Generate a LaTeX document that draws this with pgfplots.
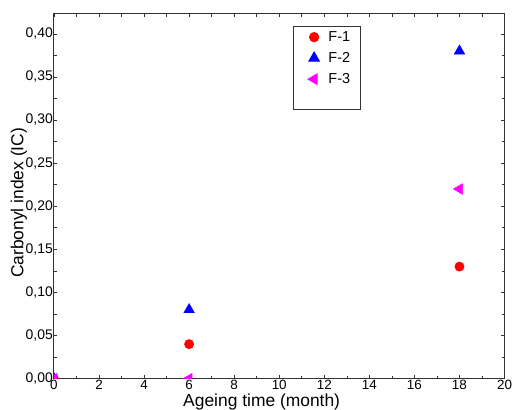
\documentclass[border=0pt]{standalone}
\usepackage{fontspec}
\setmainfont{Liberation Sans}
\usepackage{pgfplots}
\pgfplotsset{compat=1.18}
\definecolor{fmag}{RGB}{255,0,255}
\definecolor{fred}{RGB}{255,0,0}
\definecolor{fblue}{RGB}{0,0,255}

\begin{document}
\begin{tikzpicture}
\begin{axis}[
  scale only axis,
  width=451bp, height=365bp,
  xmin=0, xmax=20, ymin=0, ymax=0.423,
  xtick={0,2,...,20}, minor x tick num=1,
  ytick={0,0.05,...,0.40}, minor y tick num=1,
  tick align=inside,
  major tick length=3.5bp, minor tick length=3bp,
  every tick/.style={black!80, line width=0.6pt},
  axis line style={line width=1pt, black!80},
  /pgf/number format/.cd, use comma, fixed, fixed zerofill, precision=2, assume math mode=true,
  /pgfplots/.cd,
  xticklabel style={/pgf/number format/precision=0, /pgf/number format/fixed zerofill=false, font=\fontsize{13.5}{14}\selectfont, inner sep=0pt, yshift=-1pt},
  yticklabel style={font=\fontsize{14}{15}\selectfont, inner sep=1pt},
  xlabel={Ageing time (month)},
  ylabel={Carbonyl index (IC)},
  label style={font=\fontsize{17.5}{19}\selectfont},
  xlabel style={at={(axis description cs:0.461,-0.0755)}, anchor=base, inner sep=0pt},
  ylabel style={at={(axis description cs:-0.0776,0.482)}, anchor=center},
  clip marker paths=true,
  legend style={at={(axis cs:10.6,0.409)}, anchor=north west, draw=black!80, line width=0.8pt,
    font=\fontsize{14.5}{16}\selectfont, row sep=5.5bp, inner xsep=8bp, inner ysep=3bp,
    /tikz/every odd column/.append style={column sep=7bp}},
  legend cell align=left,
  legend image code/.code={\draw[mark repeat=2,mark phase=2,#1] plot coordinates {(0bp,0bp)(13bp,0bp)(20bp,0bp)};},
]
\addplot[only marks, mark=*, mark size=4.7bp, color=fred, mark options={draw=fred, fill=fred}]
  coordinates {(0,0) (6,0.04) (18,0.13)};
\addlegendentry{F-1}
\addplot[only marks, mark=triangle*, mark size=6.2bp, color=fblue, mark options={draw=fblue, fill=fblue}]
  coordinates {(0,0) (6,0.08) (18,0.38)};
\addlegendentry{F-2}
\addplot[only marks, mark=triangle*, mark size=6.2bp, color=fmag, mark options={draw=fmag, fill=fmag, rotate=90}]
  coordinates {(0,0) (6,0) (18,0.22)};
\addlegendentry{F-3}
\addlegendimage{empty legend}
\addlegendentry{\rule{0pt}{8bp}}
\end{axis}
\path (current axis.south west) ++(-54bp,-31bp);
\path (current axis.north east) ++(7bp,14bp);
\end{tikzpicture}
\end{document}
